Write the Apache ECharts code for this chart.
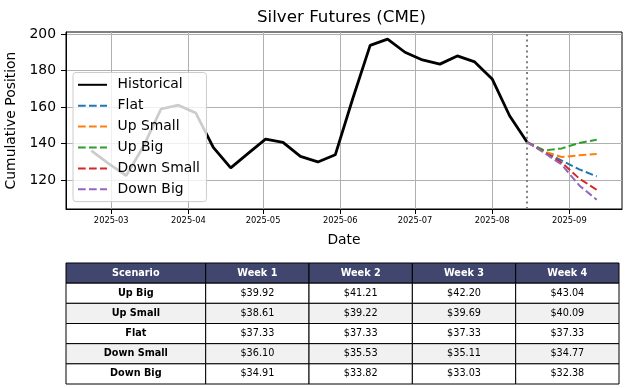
<!DOCTYPE html>
<html>
<head>
<meta charset="utf-8">
<script src="https://cdn.jsdelivr.net/npm/echarts@6/dist/echarts.min.js"></script>
<style>html,body{margin:0;padding:0;background:#fff}#c{width:636px;height:388px}</style>
</head>
<body>
<div id="c"></div>
<script>
// ---------- data ----------
const histDates = ['2025-02-21','2025-02-28','2025-03-07','2025-03-14','2025-03-21','2025-03-28',
  '2025-04-04','2025-04-11','2025-04-18','2025-04-25','2025-05-02','2025-05-09','2025-05-16',
  '2025-05-23','2025-05-30','2025-06-06','2025-06-13','2025-06-20','2025-06-27','2025-07-04',
  '2025-07-11','2025-07-18','2025-07-25','2025-08-01','2025-08-08','2025-08-15'];
const histValues = [136.1,129.0,122.4,138.5,158.9,161.0,156.7,137.9,126.6,134.6,142.4,140.6,132.9,
  129.9,133.8,164.5,193.8,197.2,190.0,185.8,183.5,188.0,184.7,175.4,155.2,140.8];
const fcDates = ['2025-08-15','2025-08-22','2025-08-29','2025-09-05','2025-09-12'];
const flatValues      = [140.8,135.4,130.6,125.8,122.0];
const upSmallValues   = [140.8,135.6,132.6,133.5,134.2];
const upBigValues     = [140.8,136.2,137.3,140.3,142.1];
const downSmallValues = [140.8,135.1,129.4,120.8,114.6];
const downBigValues   = [140.8,134.8,128.3,117.0,109.2];
const splitDate = '2025-08-15';
const xTickMonths = ['2025-03-01','2025-04-01','2025-05-01','2025-06-01','2025-07-01','2025-08-01','2025-09-01'];
const yTicks = [120,140,160,180,200];

const tableHeader = ['Scenario','Week 1','Week 2','Week 3','Week 4'];
const scenarios = ['Up Big','Up Small','Flat','Down Small','Down Big'];
const upBigPrices     = [39.92,41.21,42.20,43.04];
const upSmallPrices   = [38.61,39.22,39.69,40.09];
const flatPrices      = [37.33,37.33,37.33,37.33];
const downSmallPrices = [36.10,35.53,35.11,34.77];
const downBigPrices   = [34.91,33.82,33.03,32.38];

// ---------- helpers ----------
const DAY = 86400000;
const t = s => { const p = s.split('-').map(Number); return Date.UTC(p[0], p[1]-1, p[2]); };
const pad = n => (n < 10 ? '0' : '') + n;
const FONT = 'DejaVu Sans';
const xMin = t(histDates[0]) - 10.15*DAY;
const xMax = t(fcDates[fcDates.length-1]) + 10.15*DAY;

const zip = (ds, vs) => ds.map((d,i) => [t(d), vs[i]]);

const fcSeries = [
  ['Flat', flatValues, '#1f77b4'],
  ['Up Small', upSmallValues, '#ff7f0e'],
  ['Up Big', upBigValues, '#2ca02c'],
  ['Down Small', downSmallValues, '#d62728'],
  ['Down Big', downBigValues, '#9467bd']
].map(([name, vals, color]) => ({
  name, type: 'line', data: zip(fcDates, vals), symbol: 'none',
  xAxisIndex: 0, yAxisIndex: 0,
  lineStyle: { color, width: 2, type: [7.7, 3.3] }, itemStyle: { color },
  z: 3
}));

// table cells
const priceRows = [upBigPrices, upSmallPrices, flatPrices, downSmallPrices, downBigPrices];
const rowKeys = ['header'].concat(scenarios);
const rowFill = r => r === 0 ? '#40466e' : (r % 2 === 0 ? '#f1f1f2' : '#ffffff');
const scenCells = rowKeys.map((k, r) => ({
  value: [0, r], text: r === 0 ? tableHeader[0] : scenarios[r-1],
  fill: rowFill(r), color: r === 0 ? '#fff' : '#000', bold: true
}));
const weekCells = [];
for (let c = 0; c < 4; c++) {
  weekCells.push({ value: [c, 0], text: tableHeader[c+1], fill: rowFill(0), color: '#fff', bold: true });
  for (let r = 1; r <= 5; r++) {
    weekCells.push({ value: [c, r], text: '$' + priceRows[r-1][c].toFixed(2), fill: rowFill(r), color: '#000', bold: false });
  }
}
const cellRenderer = cells => (params, api) => {
  const cell = cells[params.dataIndex];
  const ctr = api.coord([api.value(0), api.value(1)]);
  const sz = api.size([1, 1]);
  return {
    type: 'group',
    children: [
      { type: 'rect', shape: { x: ctr[0]-sz[0]/2, y: ctr[1]-sz[1]/2, width: sz[0], height: sz[1] },
        style: { fill: cell.fill, stroke: '#000', lineWidth: 1 } },
      { type: 'text', style: { text: cell.text, x: ctr[0], y: ctr[1], align: 'center', verticalAlign: 'middle',
        fill: cell.color, font: (cell.bold ? 'bold ' : '') + '9.7px "' + FONT + '"' } }
    ]
  };
};

const hiddenCat = (data, gridIndex, inverse) => ({
  type: 'category', data, gridIndex, inverse: !!inverse,
  axisLine: { show: false }, axisTick: { show: false }, axisLabel: { show: false }, splitLine: { show: false }
});

const chart = echarts.init(document.getElementById('c'), null, { renderer: 'canvas' });
chart.setOption({
  animation: false,
  textStyle: { fontFamily: FONT },
  title: {
    text: 'Silver Futures (CME)', left: 257, top: 9, padding: 0,
    textStyle: { fontFamily: FONT, fontSize: 16.7, fontWeight: 'normal', color: '#000' }
  },
  legend: {
    orient: 'vertical', left: 73, top: 72.5,
    data: ['Historical','Flat','Up Small','Up Big','Down Small','Down Big'],
    backgroundColor: 'rgba(255,255,255,0.8)', borderColor: '#cccccc', borderWidth: 1, borderRadius: 3,
    padding: [5.3, 6.5, 5.3, 4], itemWidth: 29, itemHeight: 14, itemGap: 6.9,
    itemStyle: { opacity: 0 },
    textStyle: { fontFamily: FONT, fontSize: 13.9, color: '#000', padding: [0, 0, 0, 5.6] },
    z: 10
  },
  grid: [
    { left: 66, top: 32, right: 14, height: 177, show: true, borderColor: '#000', borderWidth: 1,
      backgroundColor: 'transparent', outerBoundsMode: 'none', containLabel: false },
    { left: 66, top: 263, width: 139.7, height: 121, outerBoundsMode: 'none' },
    { left: 205.7, top: 263, width: 413.3, height: 121, outerBoundsMode: 'none' }
  ],
  xAxis: [
    {
      type: 'value', gridIndex: 0, min: xMin, max: xMax,
      axisLine: { show: true, lineStyle: { color: '#000', width: 1 } },
      axisTick: { show: true, length: 5, lineStyle: { color: '#000', width: 1 }, customValues: xTickMonths.map(t) },
      axisLabel: {
        customValues: xTickMonths.map(t), margin: 8, fontSize: 8.3, color: '#000', fontFamily: FONT,
        formatter: v => { const d = new Date(v); return d.getUTCFullYear() + '-' + pad(d.getUTCMonth()+1); }
      },
      splitLine: { show: true, lineStyle: { color: '#b0b0b0', width: 1 } },
      name: 'Date', nameLocation: 'middle', nameGap: 24,
      nameTextStyle: { fontFamily: FONT, fontSize: 13.9, color: '#000' }
    },
    hiddenCat(['Scenario'], 1),
    hiddenCat(['Week 1','Week 2','Week 3','Week 4'], 2)
  ],
  yAxis: [
    {
      type: 'value', gridIndex: 0, min: 104.1, max: 201.1,
      axisLine: { show: true, lineStyle: { color: '#000', width: 1 } },
      axisTick: { show: true, length: 5, lineStyle: { color: '#000', width: 1 }, customValues: yTicks },
      axisLabel: { customValues: yTicks, margin: 10, fontSize: 13.9, color: '#000', fontFamily: FONT },
      splitLine: { show: true, lineStyle: { color: '#b0b0b0', width: 1 } },
      name: 'Cumulative Position', nameLocation: 'middle', nameGap: 41,
      nameTextStyle: { fontFamily: FONT, fontSize: 13.9, color: '#000' }
    },
    hiddenCat(rowKeys, 1, true),
    hiddenCat(rowKeys, 2, true)
  ],
  series: [
    {
      name: 'Historical', type: 'line', data: zip(histDates, histValues), symbol: 'none',
      xAxisIndex: 0, yAxisIndex: 0,
      lineStyle: { color: '#000', width: 2.8 }, itemStyle: { color: '#000' }, z: 3,
      markLine: {
        silent: true, symbol: 'none', label: { show: false },
        lineStyle: { color: '#808080', type: [2, 3.4], width: 2 },
        data: [{ xAxis: t(splitDate) }]
      }
    }
  ].concat(fcSeries).concat([
    { type: 'custom', xAxisIndex: 1, yAxisIndex: 1, data: scenCells.map(c => c.value),
      renderItem: cellRenderer(scenCells), silent: true },
    { type: 'custom', xAxisIndex: 2, yAxisIndex: 2, data: weekCells.map(c => c.value),
      renderItem: cellRenderer(weekCells), silent: true }
  ])
});
</script>
</body>
</html>
